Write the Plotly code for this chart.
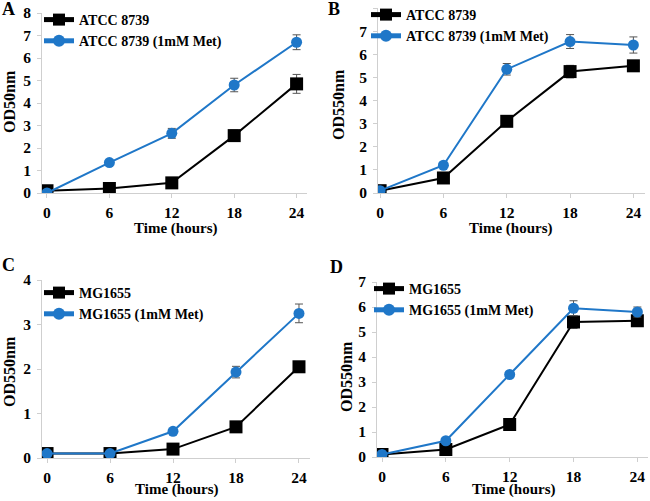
import plotly.graph_objects as go

W, H = 650, 501

hours = [0, 6, 12, 18, 24]

# panel A (ATCC 8739)
a_ctrl = [0.1, 0.2, 0.45, 2.55, 4.85]
a_ctrl_err = [0.05, 0.05, 0.08, 0.25, 0.42]
a_met = [0.0, 1.35, 2.65, 4.8, 6.7]
a_met_err = [0.03, 0.08, 0.22, 0.3, 0.33]

# panel B (ATCC 8739)
b_ctrl = [0.1, 0.65, 3.1, 5.25, 5.5]
b_ctrl_err = [0.03, 0.08, 0.15, 0.27, 0.15]
b_met = [0.1, 1.2, 5.35, 6.55, 6.4]
b_met_err = [0.03, 0.08, 0.25, 0.3, 0.35]

# panel C (MG1655)
c_ctrl = [0.1, 0.1, 0.2, 0.7, 2.05]
c_ctrl_err = [0.01, 0.01, 0.03, 0.06, 0.08]
c_met = [0.1, 0.1, 0.6, 1.93, 3.25]
c_met_err = [0.01, 0.01, 0.05, 0.13, 0.21]

# panel D (MG1655)
d_ctrl = [0.1, 0.3, 1.3, 5.4, 5.45]
d_ctrl_err = [0.02, 0.05, 0.08, 0.25, 0.2]
d_met = [0.1, 0.65, 3.3, 5.95, 5.8]
d_met_err = [0.02, 0.05, 0.1, 0.3, 0.2]

BLUE = "#1f77c8"
FONT = "Liberation Serif, Times New Roman, serif"

panels = [
    # letter, strain, ctrl, err, met, err, ytitle, ymax, box (px: left, right, top, bottom), xrange
    ("A", "ATCC 8739", a_ctrl, a_ctrl_err, a_met, a_met_err, "OD50nm", 8, (42, 307, 13, 193), [-0.48, 25.0]),
    ("B", "ATCC 8739", b_ctrl, b_ctrl_err, b_met, b_met_err, "OD550nm", 8, (378, 645, 8, 193), [-0.2, 25.1]),
    ("C", "MG1655", c_ctrl, c_ctrl_err, c_met, c_met_err, "OD550nm", 4, (42, 310, 280, 458), [-0.48, 25.05]),
    ("D", "MG1655", d_ctrl, d_ctrl_err, d_met, d_met_err, "OD550nm", 7, (377, 648, 282, 457), [-0.47, 25.0]),
]

letter_pos = [(8, 9), (334, 9), (8, 265), (336, 267)]
ytitle_pos = [(9, 102), (338, 105), (9, 372), (346, 376)]
# x titles are anchored at their bottom edge
xtitle_pos = [(175, 239), (510, 239), (176, 500), (513, 500)]
legend_pos = [(39, 4), (366, -1), (39, 277), (369, 273)]

fig = go.Figure()
layout = {}
annotations = []


def label(text, px, py, size, angle=0, yanchor="middle"):
    return dict(
        text=text, x=px / W, y=1 - py / H, xref="paper", yref="paper",
        showarrow=False, xanchor="center", yanchor=yanchor, textangle=angle,
        font=dict(family=FONT, size=size, color="black", weight="bold"),
    )


for i, (letter, strain, ctrl, ctrl_err, met, met_err, ytitle, ymax, box, xr) in enumerate(panels):
    n = "" if i == 0 else str(i + 1)
    xa, ya = "x" + n, "y" + n
    lg = "legend" + n
    left, right, top, bottom = box

    fig.add_trace(go.Scatter(
        x=hours, y=ctrl, name=strain, xaxis=xa, yaxis=ya, legend=lg,
        mode="lines+markers",
        line=dict(color="black", width=2),
        marker=dict(symbol="square", size=13, color="black"),
        error_y=dict(type="data", array=ctrl_err, color="#555555", thickness=1, width=4),
    ))
    fig.add_trace(go.Scatter(
        x=hours, y=met, name=strain + " (1mM Met)", xaxis=xa, yaxis=ya, legend=lg,
        mode="lines+markers",
        line=dict(color=BLUE, width=2),
        marker=dict(symbol="circle", size=11, color=BLUE),
        error_y=dict(type="data", array=met_err, color="#555555", thickness=1, width=4),
    ))

    axis_common = dict(
        showline=True, linecolor="#cfcfcf", linewidth=1,
        ticks="outside", tickcolor="#cfcfcf", ticklen=4,
        showgrid=False, zeroline=False, automargin=False,
        tickfont=dict(family=FONT, size=15.5, color="black", weight="bold"),
        fixedrange=True,
    )
    layout["xaxis" + n] = dict(
        axis_common,
        domain=[left / W, right / W], anchor=ya,
        range=xr, tickvals=hours,
        ticklabelstandoff=1,
    )
    layout["yaxis" + n] = dict(
        axis_common,
        domain=[1 - bottom / H, 1 - top / H], anchor=xa,
        range=[0, ymax], dtick=1,
        ticklabelstandoff=3,
    )
    lx, ly = legend_pos[i]
    layout[lg] = dict(
        x=lx / W, y=1 - ly / H, xanchor="left", yanchor="top",
        xref="paper", yref="paper",
        bgcolor="rgba(0,0,0,0)", tracegroupgap=0, itemwidth=30,
        itemsizing="constant",
        font=dict(family=FONT, size=14, color="black", weight="bold"),
    )

    annotations.append(label(letter, *letter_pos[i], 18))
    annotations.append(label(ytitle, *ytitle_pos[i], 16, -90))
    annotations.append(label("Time (hours)", *xtitle_pos[i], 15, yanchor="bottom"))

fig.update_layout(
    width=W, height=H,
    margin=dict(l=0, r=0, t=0, b=0, autoexpand=False),
    paper_bgcolor="white", plot_bgcolor="white",
    showlegend=True,
    annotations=annotations,
    **layout,
)

# the page body has a default 8px margin; drop it so the figure fills the window
fig.write_html(
    "out.html",
    config={"displayModeBar": False},
    post_script="document.body.style.margin = '0px';",
)
